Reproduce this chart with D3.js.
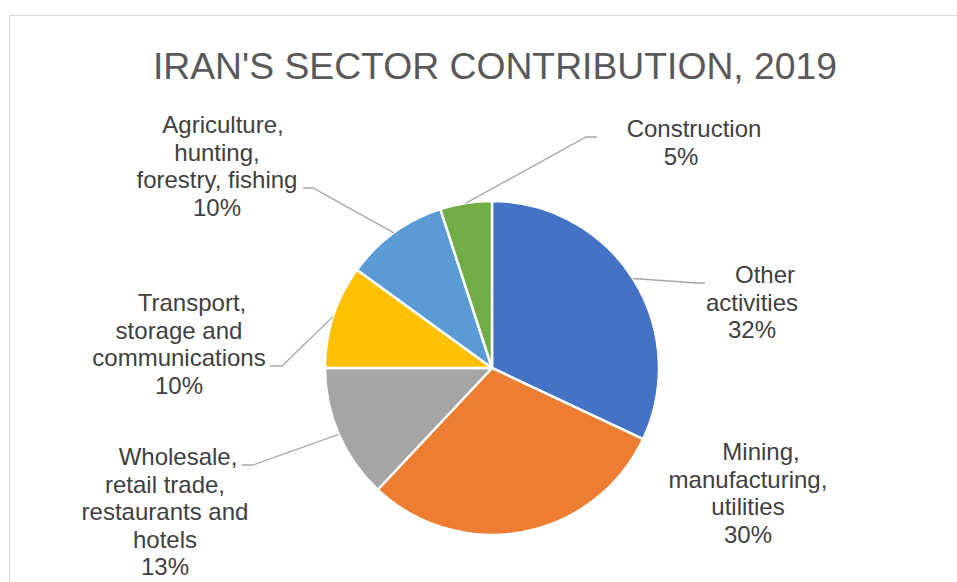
<!DOCTYPE html>
<html>
<head>
<meta charset="utf-8">
<script src="https://cdn.jsdelivr.net/npm/d3@7"></script>
<style>
  html, body { margin: 0; padding: 0; background: #ffffff; }
  svg { display: block; }
  text { font-family: "Liberation Sans", Arial, sans-serif; }
</style>
</head>
<body>
<svg id="chart" width="957" height="582"></svg>
<script>
// Sector shares of Iran's economy, 2019 (percent), in drawing order clockwise from 12 o'clock
const categories = [
  "Other activities",
  "Mining, manufacturing, utilities",
  "Wholesale, retail trade, restaurants and hotels",
  "Transport, storage and communications",
  "Agriculture, hunting, forestry, fishing",
  "Construction"
];
const shares = [32, 30, 13, 10, 10, 5];
const labelLines = [
  ["Other", "activities"],
  ["Mining,", "manufacturing,", "utilities"],
  ["Wholesale,", "retail trade,", "restaurants and", "hotels"],
  ["Transport,", "storage and", "communications"],
  ["Agriculture,", "hunting,", "forestry, fishing"],
  ["Construction"]
];
const sliceColors = ["#4472C4", "#ED7D31", "#A5A5A5", "#FFC000", "#5B9BD5", "#70AD47"];
const chartTitle = "IRAN'S SECTOR CONTRIBUTION, 2019";

// Geometry of the pie and its data labels
const W = 957, H = 582;
const cx = 492, cy = 368, radius = 167;
const labelFont = 24, lineHeight = 27.6;
// label block: centre x, first baseline y, extra shift of the first line;
// leader: elbow and end point (null = no leader)
const labelLayout = [
  { x: 752, y: 283, first: 13, elbow: [697, 283], end: [705, 283] },
  { x: 748, y: 460, first: 13, elbow: null, end: null },
  { x: 165, y: 465, first: 13, elbow: [253, 465], end: [242, 465] },
  { x: 179, y: 311, first: 13, elbow: [282, 366], end: [270, 366] },
  { x: 217, y: 133, first: 6, elbow: [313, 188], end: [303, 188] },
  { x: 681, y: 137, first: 13, elbow: [586, 137], end: [597, 137] }
];

const svg = d3.select("#chart");

// chart frame
svg.append("rect")
  .attr("x", 9.5).attr("y", 15.5)
  .attr("width", 1100).attr("height", 1000)
  .attr("fill", "#ffffff")
  .attr("stroke", "#D9D9D9")
  .attr("stroke-width", 1);

// title
svg.append("text")
  .attr("x", 495).attr("y", 79)
  .attr("text-anchor", "middle")
  .attr("font-size", 37.3)
  .attr("fill", "#595959")
  .text(chartTitle);

const data = categories.map((c, i) => ({ name: c, value: shares[i], index: i }));
const pie = d3.pie().value(d => d.value).sort(null);
const arcs = pie(data);
const arc = d3.arc().innerRadius(0).outerRadius(radius);

const g = svg.append("g").attr("transform", `translate(${cx},${cy})`);

g.selectAll("path.slice")
  .data(arcs)
  .join("path")
  .attr("class", "slice")
  .attr("d", arc)
  .attr("fill", d => sliceColors[d.data.index])
  .attr("stroke", "#ffffff")
  .attr("stroke-width", 2.5)
  .attr("stroke-linejoin", "round");

// leader lines from the slice edge at its mid-angle to the label
const leaders = svg.append("g");
arcs.forEach(a => {
  const lay = labelLayout[a.data.index];
  if (!lay.elbow) return;
  const mid = (a.startAngle + a.endAngle) / 2;
  const sx = cx + radius * Math.sin(mid);
  const sy = cy - radius * Math.cos(mid);
  leaders.append("polyline")
    .attr("points", [[sx, sy], lay.elbow, lay.end].map(p => p.join(",")).join(" "))
    .attr("fill", "none")
    .attr("stroke", "#A6A6A6")
    .attr("stroke-width", 1.3);
});

// data labels: category name lines followed by the percentage
const labels = svg.append("g");
arcs.forEach(a => {
  const i = a.data.index;
  const lay = labelLayout[i];
  const lines = labelLines[i].concat([`${shares[i]}%`]);
  const t = labels.append("text")
    .attr("text-anchor", "middle")
    .attr("font-size", labelFont)
    .attr("fill", "#404040");
  lines.forEach((ln, k) => {
    t.append("tspan")
      .attr("x", lay.x + (k === 0 ? lay.first : 0))
      .attr("y", lay.y + k * lineHeight)
      .text(ln);
  });
});
</script>
</body>
</html>
